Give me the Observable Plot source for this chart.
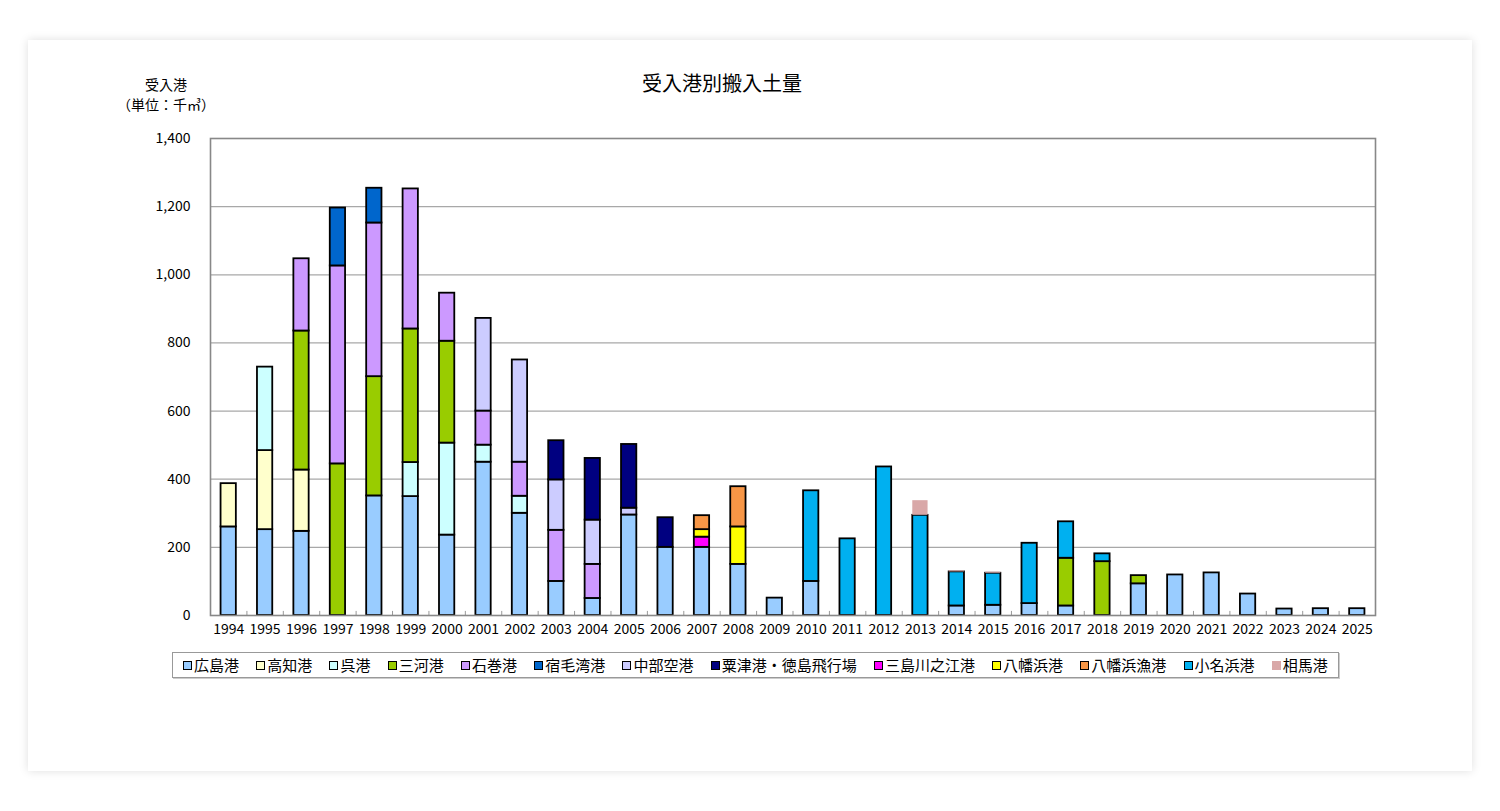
<!DOCTYPE html>
<html>
<head>
<meta charset="utf-8">
<script src="https://cdn.jsdelivr.net/npm/d3@7"></script>
<script src="https://cdn.jsdelivr.net/npm/@observablehq/plot@0.6"></script>
<style>
  html, body { margin: 0; padding: 0; background: #fff; }
  body { width: 1500px; height: 811px; position: relative; overflow: hidden;
         font-family: "Noto Sans CJK JP", "Noto Sans", sans-serif; color: #000; }
  #card { position: absolute; left: 28px; top: 40px; width: 1444px; height: 731px;
          background: #fff; box-shadow: 0 0 9px rgba(0,0,0,0.13); }
  #title { position: absolute; left: 0; width: 1388px; top: 28px; text-align: center;
           font-size: 20px; line-height: 30px; }
  #ylab { position: absolute; left: 88px; top: 34px; width: 100px; text-align: center;
          font-size: 14px; line-height: 20px; }
  #plot { position: absolute; left: 0; top: 80px; }
  #legend { position: absolute; left: 144px; top: 612px;
            border: 1px solid #999; box-shadow: 1px 1px 0 #ccc;
            display: flex; align-items: center; justify-content: space-between;
            padding: 0 10px 0 10px; box-sizing: border-box; width: 1167px; height: 26px; }
  .item { display: flex; align-items: center; font-size: 15px; line-height: 20px; white-space: nowrap; }
  .sw { width: 7px; height: 7px; border: 1px solid #000; margin-right: 2px; }
</style>
</head>
<body>
<div id="card">
  <div id="title">受入港別搬入土量</div>
  <div id="ylab">受入港<br>（単位：千㎥）</div>
  <div id="plot"></div>
  <div id="legend"></div>
</div>
<script>
const years = ["1994","1995","1996","1997","1998","1999","2000","2001","2002","2003","2004","2005","2006","2007","2008","2009","2010","2011","2012","2013","2014","2015","2016","2017","2018","2019","2020","2021","2022","2023","2024","2025"];

const seriesNames = ["広島港","高知港","呉港","三河港","石巻港","宿毛湾港","中部空港","粟津港・徳島飛行場","三島川之江港","八幡浜港","八幡浜漁港","小名浜港","相馬港"];
const seriesColors = ["#99CCFF","#FFFFCC","#CCFFFF","#99CC00","#CC99FF","#0066CC","#CCCCFF","#000080","#FF00FF","#FFFF00","#F79646","#00B0F0","#D9A8A8"];

const hiroshima  = [260,252,247,0,351,349,236,450,300,100,50,295,200,200,150,51,100,0,0,0,28,30,35,28,0,93,119,125,63,19,20,20];
const kochi      = [127,232,180,0,0,0,0,0,0,0,0,0,0,0,0,0,0,0,0,0,0,0,0,0,0,0,0,0,0,0,0,0];
const kure       = [0,245,0,0,0,100,270,50,50,0,0,0,0,0,0,0,0,0,0,0,0,0,0,0,0,0,0,0,0,0,0,0];
const mikawa     = [0,0,408,445,350,392,299,0,0,0,0,0,0,0,0,0,0,0,0,0,0,0,0,140,158,24,0,0,0,0,0,0];
const ishinomaki = [0,0,212,581,451,411,141,100,100,150,100,0,0,0,0,0,0,0,0,0,0,0,0,0,0,0,0,0,0,0,0,0];
const sukumo     = [0,0,0,170,102,0,0,0,0,0,0,0,0,0,0,0,0,0,0,0,0,0,0,0,0,0,0,0,0,0,0,0];
const chubu      = [0,0,0,0,0,0,0,272,300,148,130,20,0,0,0,0,0,0,0,0,0,0,0,0,0,0,0,0,0,0,0,0];
const awazu      = [0,0,0,0,0,0,0,0,0,115,181,187,87,0,0,0,0,0,0,0,0,0,0,0,0,0,0,0,0,0,0,0];
const mishima    = [0,0,0,0,0,0,0,0,0,0,0,0,0,30,0,0,0,0,0,0,0,0,0,0,0,0,0,0,0,0,0,0];
const yawatahama = [0,0,0,0,0,0,0,0,0,0,0,0,0,22,110,0,0,0,0,0,0,0,0,0,0,0,0,0,0,0,0,0];
const yawataGyoko= [0,0,0,0,0,0,0,0,0,0,0,0,0,41,118,0,0,0,0,0,0,0,0,0,0,0,0,0,0,0,0,0];
const onahama    = [0,0,0,0,0,0,0,0,0,0,0,0,0,0,0,0,266,225,436,294,100,94,177,107,23,0,0,0,0,0,0,0];
const soma       = [0,0,0,0,0,0,0,0,0,0,0,0,0,0,0,0,0,0,0,43,3,3,0,0,0,0,0,0,0,0,0,0];

const yTicks = [0,200,400,600,800,1000,1200,1400];

const seriesValues = [hiroshima,kochi,kure,mikawa,ishinomaki,sukumo,chubu,awazu,mishima,yawatahama,yawataGyoko,onahama,soma];

const rows = [];
years.forEach((y, i) => {
  seriesNames.forEach((s, k) => {
    const v = seriesValues[k][i];
    if (v > 0) rows.push({year: y, series: s, value: v});
  });
});

const W = 1444, H = 525, mL = 182, mR = 97, mT = 18, mB = 30;
const step = (W - mL - mR) / years.length;

const chart = Plot.plot({
  width: W, height: H,
  marginLeft: mL, marginRight: mR, marginTop: mT, marginBottom: mB,
  style: {fontFamily: "'Noto Sans CJK JP', sans-serif", fontSize: "14px", color: "#000", background: "transparent"},
  x: {domain: years, paddingInner: 0.58, paddingOuter: 0.29, round: false, label: null},
  y: {domain: [0, 1400], label: null},
  color: {domain: seriesNames, range: seriesColors},
  marks: [
    Plot.gridY(yTicks.filter(t => t > 0 && t < 1400), {stroke: "#a8a8a8", strokeOpacity: 1, strokeWidth: 1.2}),
    Plot.barY(rows, {x: "year", y: "value", fill: "series", stroke: "#000", strokeWidth: 1.8,
      strokeOpacity: d => d.series === "相馬港" ? 0 : 1}),
    Plot.ruleX(years, {x: d => d, dx: -step / 2, y1: 0, y2: 12, stroke: "#999", strokeWidth: 1}),
    Plot.frame({stroke: "#888", strokeWidth: 1.6}),
    Plot.axisY({ticks: yTicks, tickSize: 0, tickPadding: 20, tickFormat: d3.format(","), label: null, fontSize: 14}),
    Plot.axisX({tickSize: 0, tickPadding: 9, label: null, fontSize: 14})
  ]
});
document.getElementById("plot").appendChild(chart);

const legend = document.getElementById("legend");
seriesNames.forEach((s, k) => {
  const it = document.createElement("div");
  it.className = "item";
  const sw = document.createElement("span");
  sw.className = "sw";
  sw.style.background = seriesColors[k];
  if (s === "相馬港") sw.style.borderColor = "transparent";
  it.appendChild(sw);
  const t = document.createElement("span");
  t.textContent = s;
  it.appendChild(t);
  legend.appendChild(it);
});
</script>
</body>
</html>
